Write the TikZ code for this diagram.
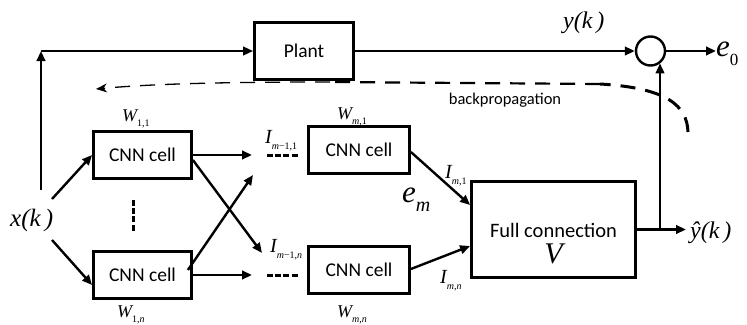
\documentclass[tikz,border=0pt]{standalone}
\usepackage{fontspec}
\setmainfont{Carlito}
\newfontfamily\tms{Liberation Serif}
\usetikzlibrary{arrows.meta,calc}
% italic serif symbols and small subscripts
\newcommand\mth[2][20]{{\tms\itshape\fontsize{#1}{#1}\selectfont #2}}
\newcommand\subs[1]{\raisebox{-0.32em}{\fontsize{10}{10}\selectfont #1}}
\begin{document}
\begin{tikzpicture}[x=1pt,y=-1pt,
  box/.style={draw,line width=2.8pt,inner sep=0pt,font=\fontsize{19.5}{20}\selectfont},
  lbl/.style={inner sep=0pt,anchor=base west},
  arr/.style={-{Triangle[length=10pt,width=8.5pt]},line width=2.4pt},
  gap/.style={line width=3pt,dash pattern=on 6pt off 2.2pt},
  bp/.style={dash pattern=on 15pt off 10pt}]
\useasboundingbox (0,0) rectangle (747,324);

% blocks
\node[box,minimum width=99pt,minimum height=57pt] (plant) at (304,51) {Plant};
\node[box,minimum width=98pt,minimum height=47pt] (cnnTL) at (142.5,155) {CNN cell};
\node[box,minimum width=98pt,minimum height=47pt] (cnnBL) at (142.5,275) {CNN cell};
\node[box,minimum width=101pt,minimum height=47pt] (cnnTR) at (359,150) {CNN cell};
\node[box,minimum width=101pt,minimum height=47pt] (cnnBR) at (359,270) {CNN cell};
\node[box,minimum width=164pt,minimum height=96pt] (fc) at (553.5,229.5) {};
\node[inner sep=0pt,font=\fontsize{20.5}{21}\selectfont] (fctxt) at (553.5,230) {Full connection};
\node[inner sep=0pt] (vlbl) at (553.5,254) {\mth[30]{V}};
\node[draw,circle,line width=2.4pt,minimum size=29pt,inner sep=0pt] (sum) at (650.5,51) {};

% signal labels
\node[lbl] (xk) at (10,226) {\mth[25]{x(k\,)}};
\node[lbl] (yk) at (563,28) {\mth[24]{y(k\,)}};
\node[lbl] (yhat) at (690,238) {\mth[24]{\^{y}(k\,)}};
\node[lbl] (e0) at (716,56) {\mth[31]{e\subs{\upshape\fontsize{17}{17}\selectfont 0}}};
\node[lbl] (em) at (402,202) {\mth[31]{e\raisebox{-0.3em}{\fontsize{20}{20}\selectfont m}}};
\node[lbl] (w11) at (122,121) {\mth[18]{W\subs{\upshape 1,1}}};
\node[lbl] (wm1) at (337,119) {\mth[18]{W\subs{\itshape m\upshape ,1}}};
\node[lbl] (w1n) at (117,317) {\mth[18]{W\subs{\upshape 1,\itshape n}}};
\node[lbl] (wmn) at (337,317) {\mth[18]{W\subs{\itshape m\upshape ,\itshape n}}};
\node[lbl] (im11) at (265,143) {\mth[20]{I\subs{\itshape m\upshape −1,1}}};
\node[lbl] (im1n) at (270,252) {\mth[20]{I\subs{\itshape m\upshape −1,\itshape n}}};
\node[lbl] (im1) at (445,178) {\mth[20]{I\subs{\itshape m\upshape ,1}}};
\node[lbl] (imn) at (440,283) {\mth[20]{I\subs{\itshape m\upshape ,\itshape n}}};
\node[inner sep=0pt,font=\fontsize{16.5}{17}\selectfont] (bplbl) at (505,100) {backpropagation};

% free ends and branch points
\coordinate (xsplit) at (41,190);
\coordinate (xcorner) at (41,51);
\coordinate (xa) at (52,199);
\coordinate (xb) at (52,240);
\coordinate (gapTL) at (252,155);
\coordinate (gapBL) at (252,275);
\coordinate (crossA) at (262,253);
\coordinate (crossB) at (253,175);
\coordinate (tap) at (660,229.5);
\coordinate (yout) at (686,229.5);
\coordinate (bpstart) at (688,132);
\coordinate (bpmid) at (600,84);
\coordinate (bpleft) at (330,82);
\coordinate (bpend) at (96,89);

% input path to the plant
\draw[arr] (xsplit) -- (xcorner);
\draw[arr] (xcorner) -- (plant.west);
\draw[arr] (plant.east) -- (sum.west);
\draw[arr] (sum.east) -- (sum.east -| e0.west);

% first layer
\draw[arr] (xa) -- (cnnTL.west);
\draw[arr] (xb) -- ($(cnnBL.west)+(0,10)$);
\draw[gap] (133,200) -- (133,231);

% towards the last layer
\draw[arr] (cnnTL.east) -- (gapTL);
\draw[arr] (cnnBL.east) -- (gapBL);
\draw[arr] ($(cnnTL.east)+(0,5)$) -- (crossA);
\draw[arr] ($(cnnBL.east)+(-5,-5)$) -- (crossB);
\draw[gap] (267,155) -- (298,155);
\draw[gap] (267,275) -- (298,275);

% last layer into the full connection
\draw[arr] ($(cnnTR.east)+(0,2)$) -- ($(fc.west)+(0,-24.5)$);
\draw[arr] ($(cnnBR.east)+(0,-1)$) -- ($(fc.west)+(0,16.5)$);

% output and feedback to the summing point
\draw[arr] (fc.east) -- (yout);
\draw[arr] (tap) -- (tap |- sum.-52);

% backpropagation path
\draw[bp,line width=3pt] (bpstart) .. controls (687,106) and (668,88) .. (bpmid);
\draw[bp,line width=2.2pt] (bpmid) -- (bpleft);
\draw[bp,line width=1.3pt,-{Stealth[length=11pt,width=9pt]}] (bpleft) .. controls (220,82) and (150,84) .. (bpend);
\end{tikzpicture}
\end{document}
